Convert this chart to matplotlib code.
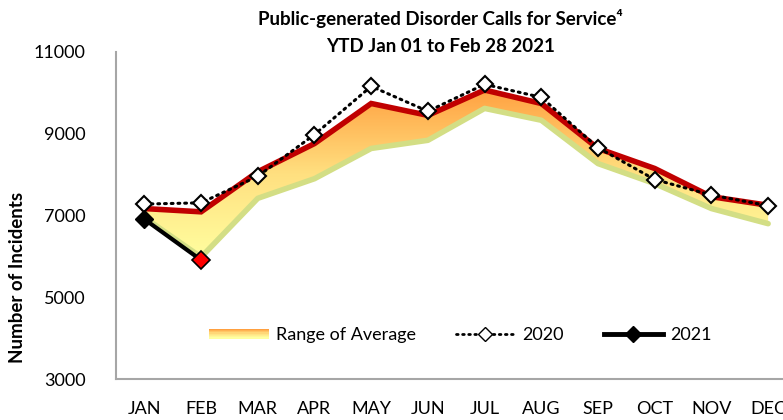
import numpy as np
import matplotlib
matplotlib.use("Agg")
import matplotlib.pyplot as plt
from matplotlib.patches import Rectangle
from matplotlib.legend_handler import HandlerBase
from matplotlib.colors import LinearSegmentedColormap
from matplotlib.lines import Line2D

plt.rcParams['font.family'] = ['Lato', 'DejaVu Sans']

months = ["JAN", "FEB", "MAR", "APR", "MAY", "JUN", "JUL", "AUG", "SEP", "OCT", "NOV", "DEC"]
avg_high = [7170, 7090, 8070, 8760, 9740, 9450, 10070, 9740, 8640, 8150, 7460, 7250]
avg_low = [6950, 5980, 7420, 7900, 8640, 8840, 9620, 9330, 8270, 7780, 7170, 6800]
y2020 = [7280, 7310, 7960, 8980, 10160, 9550, 10210, 9890, 8660, 7880, 7500, 7240]
y2021 = [6910, 5910]
yticks = [3000, 5000, 7000, 9000, 11000]

W, H = 783, 420
fig = plt.figure(figsize=(W / 100, H / 100), dpi=100)
ax = fig.add_axes([116 / W, 1 - 379 / H, 680.5 / W, (379 - 52) / H])
x = np.arange(len(months))

cmap = LinearSegmentedColormap.from_list("avg", ["#FFFFA0", "#FFE080", "#FFA040"])
poly = ax.fill_between(x, avg_low, avg_high, facecolor="none", edgecolor="none")
grad = np.linspace(0, 1, 256).reshape(-1, 1)
im = ax.imshow(grad, extent=[-0.5, 11.5, 5900, 10100], origin="lower", aspect="auto",
               cmap=cmap, zorder=1)
im.set_clip_path(poly.get_paths()[0], transform=ax.transData)

ax.plot(x, avg_low, color="#D3DE85", lw=4, zorder=2, solid_capstyle="round")
ax.plot(x, avg_high, color="#C00000", lw=4, zorder=3, solid_joinstyle="miter")

ax.plot(x, y2020, color="black", lw=2.2, linestyle=(0, (0.6, 1.6)), dash_capstyle="round",
        marker="D", markersize=8, markerfacecolor="white", markeredgecolor="black",
        markeredgewidth=1.5, zorder=4)

x21 = x[:len(y2021)]
ax.plot(x21, y2021, color="black", lw=3, zorder=5)
ax.plot(x21[:1], y2021[:1], linestyle="none", marker="D", markersize=9,
        markerfacecolor="black", markeredgecolor="black", zorder=6)
ax.plot(x21[1:], y2021[1:], linestyle="none", marker="D", markersize=9,
        markerfacecolor="#FF0000", markeredgecolor="black", markeredgewidth=1.2, zorder=6)

ax.set_xlim(-0.5, 11.5)
ax.set_ylim(3000, 11000)
ax.set_yticks(yticks)
ax.set_yticklabels([str(v) for v in yticks])
ax.set_xticks(x)
ax.set_xticklabels(months)
ax.tick_params(axis="both", length=0, labelsize=13, colors="black")
ax.tick_params(axis="x", pad=16)
ax.tick_params(axis="y", pad=22)
for s in ["top", "right"]:
    ax.spines[s].set_visible(False)
for s in ["left", "bottom"]:
    ax.spines[s].set_color("#A6A6A6")
    ax.spines[s].set_linewidth(1.5)

fig.text(18 / W, 1 - 277 / H, "Number of Incidents", rotation=90, ha="center", va="center",
         fontsize=13.5, fontweight="bold")
fig.text(440 / W, 1 - 18 / H, "Public-generated Disorder Calls for Service\u2074",
         ha="center", va="center", fontsize=13.5, fontweight="bold")
fig.text(440 / W, 1 - 47 / H, "YTD Jan 01 to Feb 28 2021",
         ha="center", va="center", fontsize=13.5, fontweight="bold")


class GradHandler(HandlerBase):
    def create_artists(self, legend, orig_handle, xdescent, ydescent, width, height, fontsize, trans):
        arts = []
        n = 8
        h = height * 0.8
        y0 = -ydescent + (height - h) / 2
        for i in range(n):
            c = cmap(1 - i / (n - 1))
            r = Rectangle((-xdescent, y0 + h - (i + 1) * h / n), width, h / n,
                          facecolor=c, edgecolor="none", transform=trans)
            arts.append(r)
        return arts


grad_handle = Rectangle((0, 0), 1, 1)
h2020 = Line2D([], [], color="black", lw=2, linestyle=(0, (0.6, 1.6)), dash_capstyle="round",
               marker="D", markersize=7, markerfacecolor="white", markeredgecolor="black")
h2021 = Line2D([], [], color="black", lw=3.5, marker="D", markersize=8,
               markerfacecolor="black", markeredgecolor="black")
leg = fig.legend([grad_handle, h2020, h2021], ["Range of Average", "2020", "2021"],
                 handler_map={Rectangle: GradHandler()}, ncol=3, frameon=False,
                 fontsize=13, loc="center left", bbox_to_anchor=(200 / W, 1 - 335 / H),
                 handlelength=3.3, handletextpad=0.4, columnspacing=2.2, borderpad=0)

fig.savefig("out.png", dpi=100)
